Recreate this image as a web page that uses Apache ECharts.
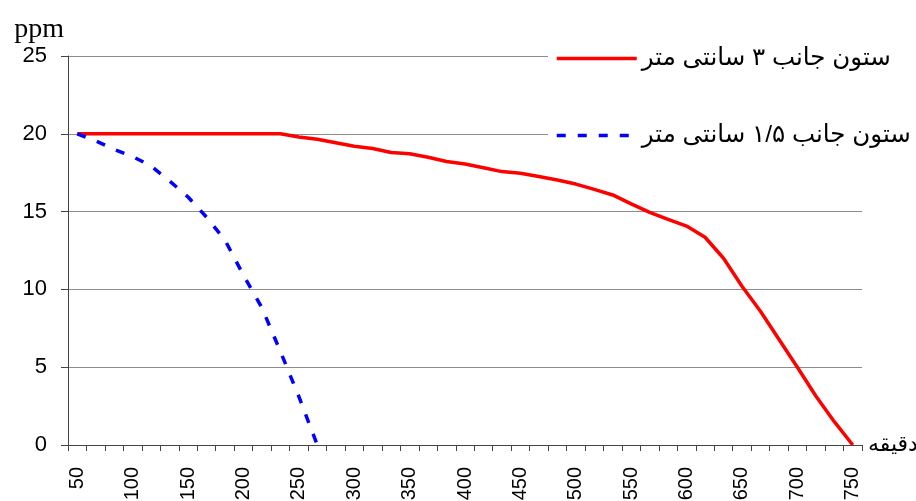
<!DOCTYPE html>
<html>
<head>
<meta charset="utf-8">
<script src="https://cdn.jsdelivr.net/npm/echarts@6/dist/echarts.min.js"></script>
<style>
html,body{margin:0;padding:0;background:#fff;}
#chart{width:916px;height:501px;}
</style>
</head>
<body>
<div id="chart"></div>
<script>
// x categories (minutes); every third one is labelled
const categories = [50, 67, 83, 100, 117, 133, 150, 167, 183, 200, 217, 233, 250, 267, 283,
  300, 317, 333, 350, 367, 383, 400, 417, 433, 450, 467, 483, 500, 517, 533, 550,
  567, 583, 600, 617, 633, 650, 667, 683, 700, 717, 733, 750];

// ppm values
const col3cm = [20, 20, 20, 20, 20, 20, 20, 20, 20, 20, 20, 20,
  19.8, 19.65, 19.43, 19.2, 19.05, 18.8, 18.72, 18.49, 18.22, 18.06, 17.82, 17.57,
  17.46, 17.25, 17.03, 16.77, 16.43, 16.07, 15.5, 14.95, 14.5, 14.07, 13.35, 12.0,
  10.2, 8.6, 6.8, 5.0, 3.15, 1.5, 0];

const col15cm = [20, 19.55, 19.0, 18.54, 17.93, 16.97, 15.94, 14.65, 13.17, 10.92,
  8.82, 6.02, 3.12, 0];

const seriesNames = ['ستون جانب ۳ سانتی متر', 'ستون جانب ۱/۵ سانتی متر'];
const yTicks = { min: 0, max: 25, step: 5 };
const xAxisName = 'دقیقه';
const yAxisName = 'ppm';

const chart = echarts.init(document.getElementById('chart'), null, { renderer: 'canvas' });
const sans = '"Liberation Sans", Arial, "DejaVu Sans", sans-serif';
chart.setOption({
  animation: false,
  backgroundColor: '#ffffff',
  grid: { left: 68, right: 54, top: 56, bottom: 56, containLabel: false, outerBoundsMode: 'none' },
  legend: {
    orient: 'vertical',
    left: 548,
    top: 40,
    padding: [6, 6, 6, 7],
    backgroundColor: '#ffffff',
    itemWidth: 80,
    itemHeight: 14,
    itemGap: 52,
    z: 10,
    itemStyle: { opacity: 0 },
    lineStyle: { width: 3.5 },
    textStyle: { fontSize: 24.5, color: '#000', fontFamily: sans },
    data: seriesNames
  },
  xAxis: {
    type: 'category',
    data: categories,
    boundaryGap: true,
    name: xAxisName,
    nameLocation: 'end',
    nameGap: 6,
    nameTextStyle: { fontSize: 22, color: '#000', fontFamily: sans, padding: [26, 0, 0, 0] },
    axisLine: { lineStyle: { color: '#444', width: 1 } },
    axisTick: { show: true, interval: 0, length: 6, lineStyle: { color: '#444' } },
    axisLabel: { interval: 2, rotate: 90, fontSize: 20, margin: 22, color: '#000', fontFamily: sans },
    splitLine: { show: false }
  },
  yAxis: {
    type: 'value',
    min: yTicks.min,
    max: yTicks.max,
    interval: yTicks.step,
    name: yAxisName,
    nameLocation: 'end',
    nameGap: 12,
    nameTextStyle: { fontSize: 28, color: '#000', fontFamily: '"Liberation Serif", "Times New Roman", serif', align: 'right', padding: [0, 4, 0, 0] },
    axisLine: { show: true, lineStyle: { color: '#444', width: 1 } },
    axisTick: { show: true, length: 7, lineStyle: { color: '#444' } },
    axisLabel: { fontSize: 22, margin: 21, color: '#000', fontFamily: sans },
    splitLine: { show: true, lineStyle: { color: '#8c8c8c', width: 1 } }
  },
  series: [
    {
      name: seriesNames[0],
      type: 'line',
      data: col3cm,
      symbol: 'none',
      lineStyle: { color: '#ff0000', width: 3.5 },
      itemStyle: { color: '#ff0000' },
      z: 3
    },
    {
      name: seriesNames[1],
      type: 'line',
      data: col15cm,
      symbol: 'none',
      lineStyle: { color: '#0000ff', width: 3.5, type: [9, 12] },
      itemStyle: { color: '#0000ff' },
      z: 4
    }
  ]
});
</script>
</body>
</html>
